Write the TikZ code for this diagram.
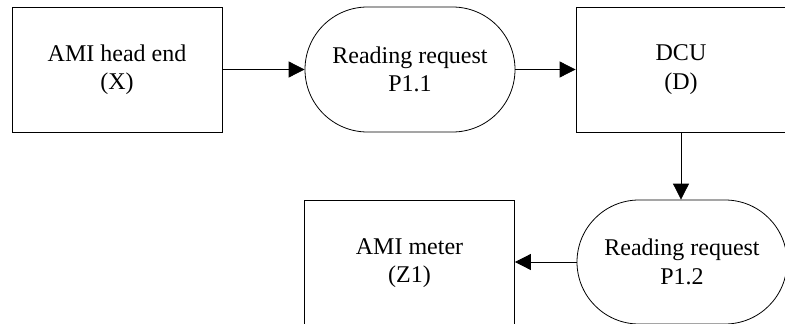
\documentclass[tikz,border=0pt]{standalone}
\usepackage{fontspec}
\setmainfont{Liberation Serif}
\usetikzlibrary{shapes.misc,arrows.meta}
\begin{document}
\begin{tikzpicture}[x=1pt,y=-1pt,
  base/.style={draw=black,line width=0.8pt,minimum width=210pt,align=center,inner sep=0pt,
    font=\fontsize{24}{28.5}\selectfont},
  boxnode/.style={base,rectangle,minimum height=125pt},
  procnode/.style={base,rounded rectangle,minimum height=125pt},
  flow/.style={line width=0.8pt,-{Triangle[length=16pt,width=16pt]}}]
\useasboundingbox (0,0) rectangle (785,324);
\node[boxnode] (head) at (117,69.5) {AMI head end\\(X)};
\node[procnode] (r1) at (410,69.5) {Reading request\\P1.1};
\node[boxnode] (dcu) at (681,69.5) {DCU\\(D)};
\node[procnode,minimum height=124pt] (r2) at (682,262) {Reading request\\P1.2};
\node[boxnode,minimum height=126pt] (meter) at (409.5,263) {AMI meter\\(Z1)};
\draw[flow] (head.east) -- (r1.west);
\draw[flow] (r1.east) -- (dcu.west);
\draw[flow] (dcu.south) -- (dcu.south |- r2.north);
\draw[flow] (r2.west) -- (r2.west -| meter.east);
\end{tikzpicture}
\end{document}
